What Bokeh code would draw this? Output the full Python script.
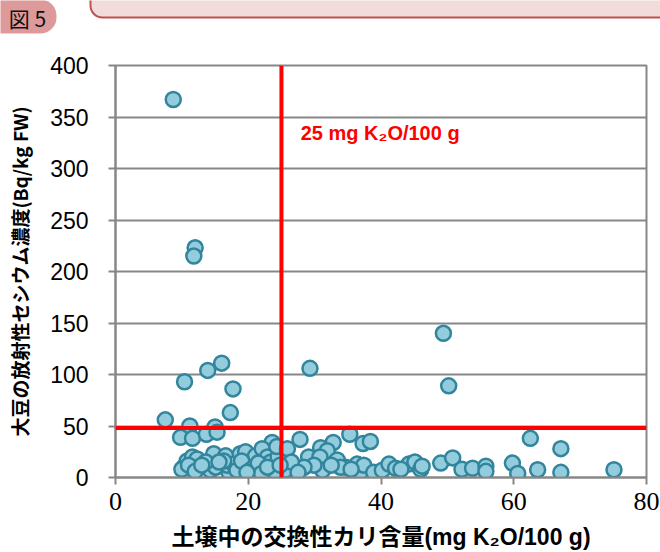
from bokeh.plotting import figure
from bokeh.models import Range1d, Span, FixedTicker
from bokeh.core.properties import value
from bokeh.embed import file_html
from bokeh.resources import INLINE

# Exchangeable potassium in soil (mg K2O/100 g) and radiocesium in soybean (Bq/kg FW)
soil_k2o = [
    8.7, 12.0, 11.8, 10.4, 13.9, 16.0, 17.7, 17.3, 7.5, 11.2, 15.0, 9.8, 11.6, 13.7, 15.3,
    29.3, 49.4, 50.2, 35.3, 37.3, 38.4, 27.8, 32.8, 23.6, 62.5, 67.1,
    10.3, 10.8, 11.6, 12.3, 12.6, 14.3, 14.8, 15.1, 16.6, 17.1, 16.8, 17.8, 18.8, 19.6,
    20.1, 21.1, 22.1, 22.9, 23.4, 22.4, 23.9, 16.3, 18.3, 13.6, 15.6, 10.0, 11.0, 12.0,
    13.0, 19.0, 20.5, 21.5, 24.5, 22.0, 24.3, 19.8,
    25.9, 30.9, 31.9, 29.1, 33.4, 30.8, 34.7, 36.9, 36.4, 37.4, 38.9, 40.2, 41.2, 42.2,
    44.2, 31.2, 29.9, 26.9, 25.6, 24.1, 28.4, 33.9, 22.9, 26.5, 27.5, 32.5, 35.5, 24.8,
    43.0, 45.1, 46.0, 49.0, 50.8, 52.2, 53.8, 55.8, 55.8, 59.8, 60.6, 63.6, 67.1, 75.1, 46.2,
]
soybean_cs = [
    367, 223, 215, 93, 104, 111, 86, 63, 56, 50, 49, 39, 38, 42, 44,
    106, 140, 89, 42, 33, 35, 37, 34, 34, 38, 28,
    10, 16, 20, 18, 10, 7, 23, 10, 21, 5, 12, 13, 23, 25,
    12, 21, 28, 20, 15, 10, 7, 16, 7, 15, 15, 8, 12, 6,
    12, 16, 8, 14, 20, 4, 30, 5,
    28, 29, 26, 20, 17, 20, 10, 5, 13, 12, 5, 7, 13, 9,
    13, 7, 12, 10, 7, 5, 10, 10, 10, 15, 5, 12, 8, 12,
    8, 15, 8, 14, 19, 8, 9, 11, 6, 14, 4, 7.5, 5, 7.5, 11,
]

K_THRESHOLD = 25      # mg K2O/100 g
CS_REFERENCE = 48     # Bq/kg FW
x_ticks = [0, 20, 40, 60, 80]
y_ticks = [0, 50, 100, 150, 200, 250, 300, 350, 400]

JP = "Noto Sans CJK JP"
GRAY = "#878787"

# Header strip: figure badge and the edge of the caption panel (pixel coordinates)
header = figure(width=660, height=40, x_range=Range1d(0, 660), y_range=Range1d(0, 40),
                x_axis_location=None, y_axis_location=None, toolbar_location=None,
                output_backend="svg", min_border=0)
header.grid.visible = False
header.outline_line_color = None
header.quad(left=[90], right=[720], bottom=[23], top=[70], fill_color="#F2DCDB",
            line_color="#C0504D", line_width=2, border_radius=12)
header.quad(left=[-20], right=[56], bottom=[7], top=[41], fill_color="#DE9A9A",
            line_color=None, border_radius=16)
header.text(x=[27], y=[23], text=["図 5"], text_align="center", text_baseline="middle",
            text_font=value(JP), text_font_size="21px", text_color="#111111")

p = figure(width=660, height=512, x_range=Range1d(0, 80), y_range=Range1d(0, 400),
           min_border_left=115, min_border_right=14, min_border_top=25, min_border_bottom=75,
           toolbar_location=None, output_backend="svg")

p.outline_line_color = GRAY
p.outline_line_width = 2
p.xgrid.visible = False
p.ygrid.grid_line_color = GRAY
p.ygrid.grid_line_width = 2
p.ygrid.ticker = FixedTicker(ticks=y_ticks)

p.xaxis.ticker = FixedTicker(ticks=x_ticks)
p.yaxis.ticker = FixedTicker(ticks=y_ticks)
for ax in (p.xaxis[0], p.yaxis[0]):
    ax.axis_line_color = GRAY
    ax.axis_line_width = 2
    ax.major_tick_line_color = GRAY
    ax.major_tick_line_width = 2
    ax.major_tick_in = 0
    ax.major_tick_out = 7
    ax.minor_tick_line_color = None
    ax.major_label_text_color = "black"
    ax.axis_label_text_color = "black"
    ax.axis_label_text_font_style = "bold"

p.yaxis.major_label_text_font = "Liberation Sans"
p.yaxis.major_label_text_font_size = "23px"
p.yaxis.major_label_standoff = 20
p.yaxis.axis_label = "大豆の放射性セシウム濃度(Bq/kg FW)"
p.yaxis.axis_label_text_font = JP
p.yaxis.axis_label_text_font_size = "19px"
p.yaxis.axis_label_standoff = 14

p.xaxis.major_label_text_font = "Liberation Sans Narrow"
p.xaxis.major_label_text_font_size = "26px"
p.xaxis.major_label_standoff = 8
p.xaxis.axis_label = "土壌中の交換性カリ含量(mg K₂O/100 g)"
p.xaxis.axis_label_text_font = "Liberation Sans, Noto Sans CJK JP"
p.xaxis.axis_label_text_font_size = "23px"
p.xaxis.axis_label_standoff = 11

p.scatter(soil_k2o, soybean_cs, size=15, fill_color="#93CDDD", line_color="#31859C",
          line_width=2.5)

p.add_layout(Span(location=K_THRESHOLD, dimension="height", line_color="#FF0000", line_width=4))
p.add_layout(Span(location=CS_REFERENCE, dimension="width", line_color="#FF0000", line_width=4))

p.text(x=[K_THRESHOLD + 2.9], y=[334], text=[f"{K_THRESHOLD} mg K₂O/100 g"],
       text_color="#FF0000", text_font=value("Liberation Sans"), text_font_style="bold",
       text_font_size="20px", text_baseline="middle", text_align="left")

open("out.html", "w").write(file_html([header, p], INLINE))
